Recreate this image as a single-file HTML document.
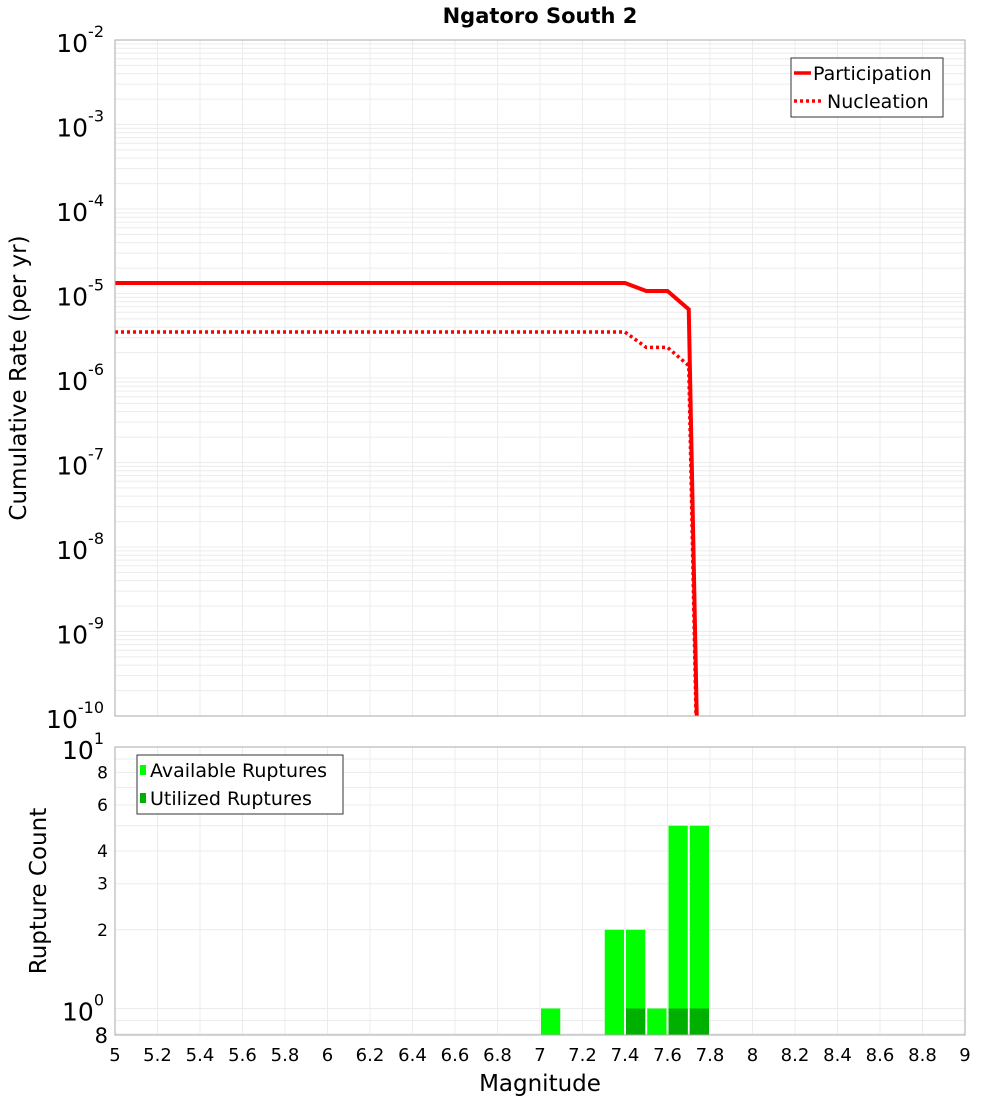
<!DOCTYPE html>
<html><head><meta charset="utf-8"><style>
html,body{margin:0;background:#fff;overflow:hidden;width:1000px;height:1100px}
svg{display:block;font-family:"DejaVu Sans","Liberation Sans",sans-serif}
</style></head><body>
<svg id="c" width="1000" height="1100"></svg>
<script>
const magPart=[5,7.4,7.5,7.6,7.7,7.8];
const ratePart=[1.33e-5,1.33e-5,1.07e-5,1.07e-5,6.5e-6,1e-18];
const magNucl=[5,7.4,7.5,7.6,7.7,7.8];
const rateNucl=[3.5e-6,3.5e-6,2.3e-6,2.3e-6,1.4e-6,1e-18];
const binMag=[7.05,7.35,7.45,7.55,7.65,7.75];
const availCount=[1,2,2,1,5,5];
const usedCount=[0,0,1,0,1,1];
const xTicks=[5,5.2,5.4,5.6,5.8,6,6.2,6.4,6.6,6.8,7,7.2,7.4,7.6,7.8,8,8.2,8.4,8.6,8.8,9];
const topExp=[-2,-3,-4,-5,-6,-7,-8,-9,-10];
const botTicks=[10,8,6,4,3,2,1,0.8];

const NS='http://www.w3.org/2000/svg';
const svg=document.getElementById('c');
function el(t,a,p){const e=document.createElementNS(NS,t);for(const k in a)e.setAttribute(k,a[k]);(p||svg).appendChild(e);return e;}
const L=115,R=965,T1=40,B1=716,T2=747,B2=1035;
const X=m=>L+(m-5)*(R-L)/4;
const Y1=v=>T1+(-2-Math.log10(v))*(B1-T1)/8;
const Y2=v=>1008.5-Math.log10(v)*261.5;

let t=el('text',{x:540,y:23,'text-anchor':'middle','font-size':21,'font-weight':'bold'});t.textContent='Ngatoro South 2';



const g1=el('g',{});


for(let e=-10;e<-2;e++)for(let k=1;k<10;k++){const y=Y1(k*Math.pow(10,e));el('line',{x1:L,x2:R,y1:y,y2:y,stroke:'#ececec','stroke-width':1},g1);}
xTicks.forEach(m=>{el('line',{x1:X(m),x2:X(m),y1:T1,y2:B1,stroke:'#ececec'},g1);});
const g2=el('g',{});


[0.8,0.9,1,2,3,4,5,6,7,8,9].forEach(v=>{const y=Y2(v);el('line',{x1:L,x2:R,y1:y,y2:y,stroke:'#ececec'},g2);});
xTicks.forEach(m=>{el('line',{x1:X(m),x2:X(m),y1:T2,y2:B2,stroke:'#ececec'},g2);});

const defs=el('defs',{});
const cp=el('clipPath',{id:'cp1'},defs);el('rect',{x:L,y:T1,width:R-L,height:B1-T1},cp);

function line(ms,vs,attrs,name){const p=el('polyline',Object.assign({points:ms.map((m,i)=>X(m)+','+Y1(vs[i])).join(' '),fill:'none','clip-path':'url(#cp1)'},attrs));

}
line(magNucl,rateNucl,{stroke:'#f00','stroke-width':3.5,'stroke-dasharray':'3,3'},'nucleation-line');
line(magPart,ratePart,{stroke:'#f00','stroke-width':4},'participation-line');

const bw=(R-L)/40;
binMag.forEach((m,i)=>{
 const x0=X(m)-bw/2+1,w=bw-2;
 const b=el('rect',{x:x0,y:Y2(availCount[i]),width:w,height:B2-Y2(availCount[i]),fill:'#00ff00'});
 
 
 if(usedCount[i]>0){const u=el('rect',{x:x0,y:Y2(usedCount[i]),width:w,height:B2-Y2(usedCount[i]),fill:'#00b000'});
 
 }
});

el('rect',{x:L,y:T1,width:R-L,height:B1-T1,fill:'none',stroke:'#aaa'});
el('rect',{x:L,y:T2,width:R-L,height:B2-T2,fill:'none',stroke:'#aaa'});

topExp.forEach(e=>{const y=Y1(Math.pow(10,e));
 const tx=el('text',{x:104,y:y+12,'text-anchor':'end','font-size':25});
 tx.innerHTML='10<tspan dy="-15" font-size="16">'+e+'</tspan>';
 
 });
botTicks.forEach(v=>{const y=Y2(v);const tx=el('text',{x:108,y:y+6,'text-anchor':'end','font-size':17});
 if(v===10||v===1){tx.setAttribute('font-size',25);tx.setAttribute('y',y+12);tx.setAttribute('x',104);tx.innerHTML='10<tspan dy="-15" font-size="16">'+Math.log10(v)+'</tspan>';}
 else tx.textContent=v===0.8?'8':String(v);
 if(v===0.8){tx.setAttribute('font-size',21);tx.setAttribute('y',y+9);}
 
 });
xTicks.forEach(m=>{const tx=el('text',{x:X(m),y:1061,'text-anchor':'middle','font-size':18});tx.textContent=String(m);
 
 });

let a=el('text',{x:540,y:1091,'text-anchor':'middle','font-size':23});a.textContent='Magnitude';


a=el('text',{x:0,y:0,'text-anchor':'middle','font-size':23,transform:'translate(26,378) rotate(-90)'});a.textContent='Cumulative Rate (per yr)';


a=el('text',{x:0,y:0,'text-anchor':'middle','font-size':23,transform:'translate(46,891) rotate(-90)'});a.textContent='Rupture Count';



const lg=el('g',{});


el('rect',{x:791,y:58,width:152,height:59,fill:'#fff',stroke:'#333'},lg);
el('line',{x1:794,x2:811,y1:73,y2:73,stroke:'#f00','stroke-width':3.5},lg);
el('line',{x1:794,x2:822,y1:101,y2:101,stroke:'#f00','stroke-width':3.5,'stroke-dasharray':'3,3'},lg);
let lt=el('text',{x:813,y:80,'font-size':19},lg);lt.textContent='Participation';
lt=el('text',{x:827,y:108,'font-size':19},lg);lt.textContent='Nucleation';
const lg2=el('g',{});


el('rect',{x:137,y:755,width:206,height:59,fill:'#fff',stroke:'#333'},lg2);
el('rect',{x:140,y:765,width:6,height:10,fill:'#00ff00'},lg2);
el('rect',{x:140,y:793,width:6,height:10,fill:'#00b000'},lg2);
lt=el('text',{x:150,y:777,'font-size':19},lg2);lt.textContent='Available Ruptures';
lt=el('text',{x:150,y:805,'font-size':19},lg2);lt.textContent='Utilized Ruptures';
</script>
</body></html>
